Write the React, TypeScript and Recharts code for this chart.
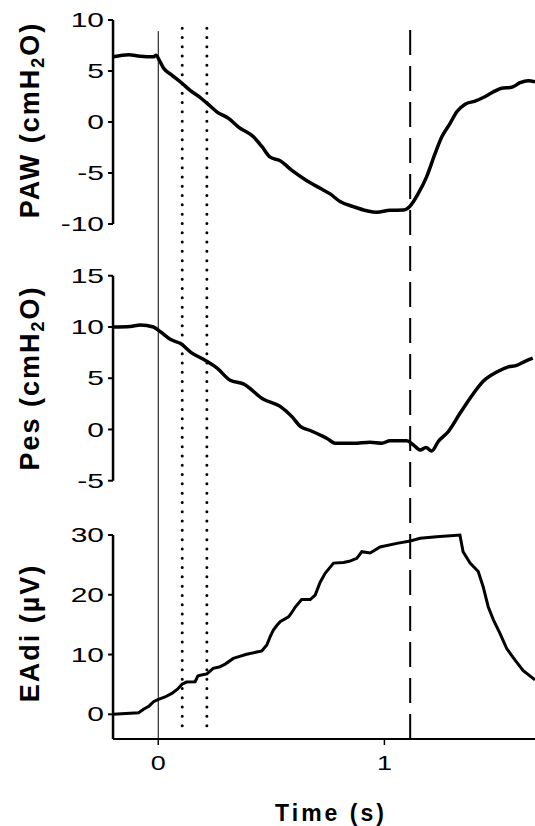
import { LineChart, Line, XAxis, YAxis, ReferenceLine, Label } from 'recharts'

// time (s) and values
const pawTime = [-0.2, -0.13, -0.08, -0.02, -0.01, 0.006, 0.023, 0.06, 0.105, 0.141, 0.186, 0.215, 0.259, 0.311, 0.355, 0.421, 0.458, 0.495, 0.539, 0.591, 0.657, 0.716, 0.76, 0.804, 0.863, 0.922, 0.966, 1.025, 1.084, 1.111, 1.15, 1.187, 1.224, 1.254, 1.29, 1.32, 1.357, 1.401, 1.437, 1.482, 1.518, 1.563, 1.6, 1.636, 1.666]
const pawValues = [6.4, 6.6, 6.45, 6.4, 6.55, 6.0, 5.3, 4.6, 3.8, 3.1, 2.4, 1.85, 1.0, 0.35, -0.5, -1.45, -2.4, -3.45, -3.8, -4.75, -5.75, -6.5, -7.05, -7.8, -8.3, -8.7, -8.85, -8.65, -8.63, -8.3, -7.0, -5.35, -3.1, -1.45, -0.15, 1.0, 1.75, 2.05, 2.4, 2.95, 3.3, 3.4, 3.85, 4.05, 3.95]

const pesTime = [-0.2, -0.124, -0.08, -0.021, 0.009, 0.053, 0.097, 0.149, 0.2, 0.259, 0.318, 0.376, 0.465, 0.539, 0.591, 0.628, 0.672, 0.731, 0.745, 0.782, 0.863, 0.937, 0.988, 1.025, 1.099, 1.128, 1.158, 1.184, 1.209, 1.239, 1.283, 1.335, 1.379, 1.437, 1.497, 1.548, 1.585, 1.622, 1.656]
const pesValues = [10.0, 10.05, 10.2, 10.0, 9.55, 8.8, 8.4, 7.45, 6.85, 6.0, 4.8, 4.45, 2.95, 2.25, 1.25, 0.3, -0.1, -0.7, -0.85, -1.35, -1.35, -1.25, -1.35, -1.1, -1.1, -1.5, -2.0, -1.75, -2.1, -1.15, -0.2, 1.6, 3.05, 4.7, 5.6, 6.1, 6.25, 6.65, 6.95]

const eadiTime = [-0.2, -0.087, -0.065, -0.04, -0.021, 0.001, 0.03, 0.06, 0.085, 0.105, 0.125, 0.163, 0.175, 0.186, 0.215, 0.243, 0.27, 0.296, 0.332, 0.36, 0.391, 0.458, 0.48, 0.495, 0.509, 0.525, 0.539, 0.576, 0.59, 0.605, 0.634, 0.672, 0.694, 0.716, 0.738, 0.775, 0.819, 0.845, 0.878, 0.9, 0.937, 0.981, 1.055, 1.114, 1.158, 1.231, 1.334, 1.348, 1.379, 1.415, 1.437, 1.459, 1.482, 1.511, 1.541, 1.577, 1.614, 1.666]
const eadiValues = [0.0, 0.25, 0.85, 1.4, 2.1, 2.5, 2.9, 3.5, 4.2, 5.05, 5.4, 5.45, 6.4, 6.55, 6.75, 7.7, 7.9, 8.4, 9.35, 9.7, 10.05, 10.6, 11.6, 13.0, 14.1, 14.9, 15.5, 16.3, 17.0, 17.9, 19.2, 19.2, 19.95, 22.1, 23.6, 25.3, 25.4, 25.6, 26.1, 27.2, 27.0, 28.0, 28.6, 29.0, 29.45, 29.7, 30.0, 27.2, 25.3, 23.9, 21.3, 18.0, 15.8, 13.55, 11.0, 9.1, 7.3, 5.75]

const pawTicks = [-10, -5, 0, 5, 10]
const pesTicks = [-5, 0, 5, 10, 15]
const eadiTicks = [0, 10, 20, 30]
const timeTicks = [0, 1]

// event markers (s)
const onsetTime = 0
const dottedTimes = [0.106, 0.215]
const dashedTime = 1.114

const toPoints = (ts: number[], vs: number[]) => ts.map((t, i) => ({ t, v: vs[i] }))
const pawData = toPoints(pawTime, pawValues)
const pesData = toPoints(pesTime, pesValues)
const eadiData = toPoints(eadiTime, eadiValues)

const FONT = '"Liberation Sans", Arial, sans-serif'

// the source figure is stretched sideways, so tick text is widened a bit
const YTick = (props: any) => {
  const { x, y, payload } = props
  return (
    <text
      transform={`translate(${x},${y}) scale(1.5,1)`}
      textAnchor="end"
      dominantBaseline="central"
      fontFamily={FONT}
      fontSize={20}
      fill="#000"
    >
      {payload.value}
    </text>
  )
}

const XTick = (props: any) => {
  const { x, y, payload } = props
  return (
    <text
      transform={`translate(${x},${y}) scale(1.35,1)`}
      textAnchor="middle"
      dy={17}
      fontFamily={FONT}
      fontSize={20}
      fill="#000"
    >
      {payload.value}
    </text>
  )
}

const axisTitle = (cx: number, cy: number, main: string, sub?: string, rest?: string) => () => (
  <text
    x={cx}
    y={cy}
    transform={`rotate(-90 ${cx} ${cy})`}
    textAnchor="middle"
    dominantBaseline="central"
    fontFamily={FONT}
    fontWeight="bold"
    fontSize={27}
    letterSpacing={2}
    fill="#000"
  >
    {main}
    {sub && (
      <tspan dy={8} fontSize={18}>
        {sub}
      </tspan>
    )}
    {rest && <tspan dy={-8}>{rest}</tspan>}
  </text>
)

export default function App() {
  return (
    <div style={{ width: 535, height: 826, background: '#fff' }}>
      <style>{'body{margin:0}'}</style>
      <LineChart width={535} height={826} margin={{ top: 20, right: 0, bottom: 0, left: 113 }}>
        <XAxis
          type="number"
          dataKey="t"
          domain={[-0.2, 1.666]}
          ticks={timeTicks}
          allowDataOverflow
          height={87}
          axisLine={{ stroke: '#000', strokeWidth: 2 }}
          tickLine={{ stroke: '#000', strokeWidth: 1.5 }}
          tickSize={6}
          tickMargin={8}
          tick={<XTick />}
        >
          <Label
            value="Time (s)"
            position="insideBottom"
            offset={5}
            dx={7}
            style={{ fontFamily: FONT, fontWeight: 'bold', fontSize: 23, letterSpacing: 3, fill: '#000' }}
          />
        </XAxis>
        <YAxis
          yAxisId="paw"
          type="number"
          domain={[-60.49, 10]}
          ticks={pawTicks}
          allowDataOverflow
          width={0.01}
          axisLine={false}
          tickLine={{ stroke: '#000', strokeWidth: 2 }}
          tickSize={5}
          tickMargin={4}
          tick={<YTick />}
          label={{ content: axisTitle(30, 120, 'PAW (cmH', '2', 'O)') }}
        />
        <YAxis
          yAxisId="pes"
          type="number"
          domain={[-30.2, 39.95]}
          ticks={pesTicks}
          allowDataOverflow
          width={0.01}
          axisLine={false}
          tickLine={{ stroke: '#000', strokeWidth: 2 }}
          tickSize={5}
          tickMargin={4}
          tick={<YTick />}
          label={{ content: axisTitle(30, 378, 'Pes (cmH', '2', 'O)') }}
        />
        <YAxis
          yAxisId="eadi"
          type="number"
          domain={[-4.13, 116.16]}
          ticks={eadiTicks}
          allowDataOverflow
          width={0.01}
          axisLine={false}
          tickLine={{ stroke: '#000', strokeWidth: 2 }}
          tickSize={5}
          tickMargin={4}
          tick={<YTick />}
          label={{ content: axisTitle(30, 633, 'EAdi (µV)') }}
        />

        {/* y axis spines, only across each panel's range */}
        <ReferenceLine yAxisId="paw" segment={[{ x: -0.2, y: 10 }, { x: -0.2, y: -10 }]} stroke="#000" strokeWidth={2.5} />
        <ReferenceLine yAxisId="pes" segment={[{ x: -0.2, y: 15 }, { x: -0.2, y: -5 }]} stroke="#000" strokeWidth={2.5} />
        <ReferenceLine yAxisId="eadi" segment={[{ x: -0.2, y: 30 }, { x: -0.2, y: -4.13 }]} stroke="#000" strokeWidth={2.5} />

        {/* event markers */}
        <ReferenceLine yAxisId="eadi" segment={[{ x: onsetTime, y: 114.3 }, { x: onsetTime, y: -4.13 }]} stroke="#000" strokeWidth={1} />
        {dottedTimes.map((t) => (
          <ReferenceLine
            key={t}
            yAxisId="eadi"
            segment={[{ x: t, y: 114.8 }, { x: t, y: -2.96 }]}
            stroke="#000"
            strokeWidth={3}
            strokeDasharray="0 9.3"
            strokeLinecap="round"
          />
        ))}
        <ReferenceLine
          yAxisId="eadi"
          segment={[{ x: dashedTime, y: 114.5 }, { x: dashedTime, y: -4.13 }]}
          stroke="#000"
          strokeWidth={2}
          strokeDasharray="25 11"
        />

        <Line yAxisId="paw" data={pawData} dataKey="v" type="monotone" stroke="#000" strokeWidth={3.5} dot={false} isAnimationActive={false} />
        <Line yAxisId="pes" data={pesData} dataKey="v" type="monotone" stroke="#000" strokeWidth={3.5} dot={false} isAnimationActive={false} />
        <Line yAxisId="eadi" data={eadiData} dataKey="v" type="linear" stroke="#000" strokeWidth={3} dot={false} isAnimationActive={false} />
      </LineChart>
    </div>
  )
}
